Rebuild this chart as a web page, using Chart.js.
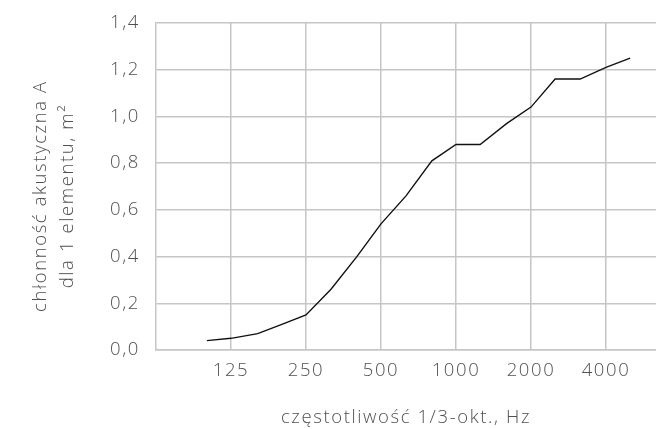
<!DOCTYPE html>
<html>
<head>
<meta charset="utf-8">
<script src="https://cdn.jsdelivr.net/npm/chart.js@4/dist/chart.umd.min.js"></script>
<style>
  html, body { margin: 0; padding: 0; background: #fff; }
  #wrap { width: 656px; height: 429px; }
</style>
</head>
<body>
<div id="wrap"><canvas id="absChart"></canvas></div>
<script>
// 1/3-octave band centre frequencies, Hz
const frequencies = [100, 125, 160, 200, 250, 315, 400, 500, 630, 800, 1000, 1250, 1600, 2000, 2500, 3150, 4000, 5000];
// absorption A per element, m2
const absorption = [0.04, 0.05, 0.07, 0.11, 0.15, 0.26, 0.40, 0.54, 0.66, 0.81, 0.88, 0.88, 0.97, 1.04, 1.16, 1.16, 1.21, 1.25];
const xTicks = [125, 250, 500, 1000, 2000, 4000];
const yTicks = [0, 0.2, 0.4, 0.6, 0.8, 1.0, 1.2, 1.4];

const textColor = '#505050';
const gridColor = '#c6c6c6';
const font = { family: "'Open Sans', sans-serif", size: 18.5, weight: 300 };
// trailing nbsp pushes the rotated title a bit lower, like the original
const pad = '\u00a0\u00a0\u00a0';

// the original font is wider, spread the letters a little
const spacing = {
    id: 'spacing',
    beforeLayout: c => { c.ctx.letterSpacing = '1.6px'; },
    beforeDraw: c => { c.ctx.letterSpacing = '1.6px'; }
};

const ctx = document.getElementById('absChart').getContext('2d');
const absChart = new Chart(ctx, {
    type: 'line',
    data: {
        datasets: [{
            data: frequencies.map((f, i) => ({ x: f, y: absorption[i] })),
            borderColor: '#111',
            borderWidth: 1.4,
            pointRadius: 0,
            tension: 0
        }]
    },
    plugins: [spacing],
    options: {
        responsive: true,
        maintainAspectRatio: false,
        animation: false,
        layout: { padding: { top: 23, right: 0, left: 0, bottom: 0 } },
        plugins: { legend: { display: false }, tooltip: { enabled: false } },
        scales: {
            x: {
                type: 'logarithmic',
                min: 62.5,
                max: 6350,
                afterBuildTicks: s => { s.ticks = xTicks.map(v => ({ value: v })); },
                afterFit: s => { s.height = 79; s.paddingLeft = 0; s.paddingRight = 0; },
                ticks: {
                    color: textColor,
                    font: font,
                    padding: 10,
                    maxRotation: 0,
                    autoSkip: false,
                    callback: v => String(v)
                },
                grid: { color: gridColor, lineWidth: 1.5, drawTicks: false },
                border: { color: gridColor, width: 1.5 },
                title: {
                    display: true,
                    text: 'częstotliwość 1/3-okt., Hz',
                    color: textColor,
                    font: font,
                    padding: { top: 0, bottom: 0 }
                }
            },
            y: {
                min: 0,
                max: 1.4,
                afterBuildTicks: s => { s.ticks = yTicks.map(v => ({ value: v })); },
                afterFit: s => { s.width = 156; s.paddingTop = 0; s.paddingBottom = 0; },
                ticks: {
                    color: textColor,
                    font: font,
                    padding: 16,
                    callback: v => v.toFixed(1).replace('.', ',')
                },
                grid: { color: gridColor, lineWidth: 1.5, drawTicks: false },
                border: { color: gridColor, width: 1.5 },
                title: {
                    display: true,
                    text: ['chłonność akustyczna A' + pad, 'dla 1 elementu, m²' + pad],
                    color: textColor,
                    font: { ...font, lineHeight: 1.48 },
                    padding: { top: 27, bottom: 0 }
                }
            }
        }
    }
});
</script>
</body>
</html>
